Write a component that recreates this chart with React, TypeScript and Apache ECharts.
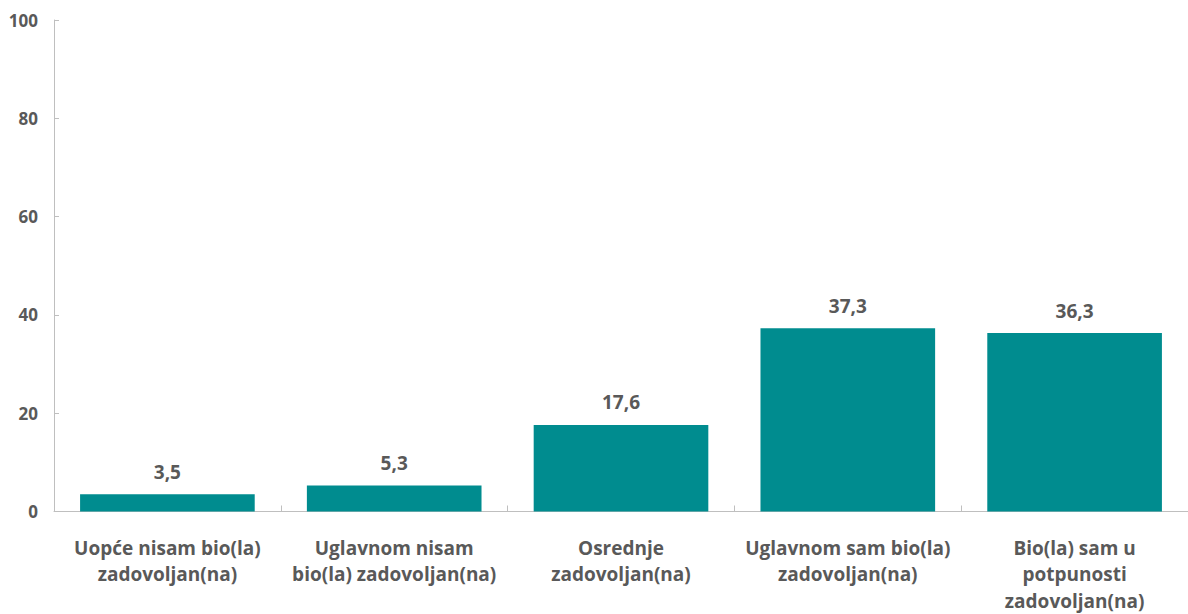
import React, { useEffect, useRef } from "react";
import * as echarts from "echarts";

const categories = [
  "Uopće nisam bio(la)\nzadovoljan(na)",
  "Uglavnom nisam\nbio(la) zadovoljan(na)",
  "Osrednje\nzadovoljan(na)",
  "Uglavnom sam bio(la)\nzadovoljan(na)",
  "Bio(la) sam u\npotpunosti\nzadovoljan(na)",
];
const values = [3.5, 5.3, 17.6, 37.3, 36.3];
const yTicks = { min: 0, max: 100, interval: 20 };

const FONT = "'Open Sans', 'Noto Sans', sans-serif";
const TEXT = "#595959";

export default function App() {
  const ref = useRef<HTMLDivElement>(null);
  useEffect(() => {
    if (!ref.current) return;
    const chart = echarts.init(ref.current, undefined, { renderer: "svg" });
    chart.setOption({
      animation: false,
      grid: { left: 54, top: 20, width: 1140, height: 497, containLabel: false },
      xAxis: {
        type: "category",
        data: categories,
        axisLine: { lineStyle: { color: "#BFBFBF", width: 1 } },
        axisTick: { show: true, inside: true, length: 6, alignWithLabel: false, lineStyle: { color: "#BFBFBF" } },
        axisLabel: {
          interval: 0,
          margin: 23,
          color: TEXT,
          fontFamily: FONT,
          fontWeight: "bold",
          fontSize: 19,
          lineHeight: 26.5,
        },
      },
      yAxis: {
        type: "value",
        min: yTicks.min,
        max: yTicks.max,
        interval: yTicks.interval,
        splitLine: { show: false },
        axisLine: { show: true, lineStyle: { color: "#BFBFBF", width: 1 } },
        axisTick: { show: true, inside: true, length: 5, lineStyle: { color: "#BFBFBF" } },
        axisLabel: {
          margin: 16,
          color: TEXT,
          fontFamily: FONT,
          fontWeight: "bold",
          fontSize: 17,
        },
      },
      series: [
        {
          type: "bar",
          data: values,
          barCategoryGap: "23%",
          itemStyle: { color: "#008C8F" },
          label: {
            show: true,
            position: "top",
            distance: 13,
            color: TEXT,
            fontFamily: FONT,
            fontWeight: "bold",
            fontSize: 19,
            formatter: (p: any) => String(p.value.toFixed(1)).replace(".", ","),
          },
        },
      ],
    });
    return () => chart.dispose();
  }, []);
  return (
    <div
      ref={ref}
      style={{ position: "fixed", left: 0, top: 0, width: 1188, height: 614, background: "#fff" }}
    />
  );
}
